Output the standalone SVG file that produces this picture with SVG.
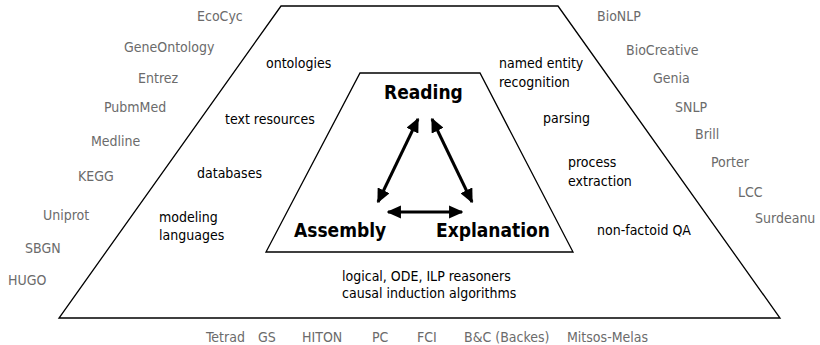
<svg xmlns="http://www.w3.org/2000/svg" width="820" height="345" viewBox="0 0 820 345">
<style>
text{font-family:"DejaVu Sans Condensed","DejaVu Sans",sans-serif;font-stretch:condensed}
.g{fill:#6b6b6b;font-size:14px}
.k{fill:#000;font-size:14px}
.b{fill:#000;font-size:19px;font-weight:bold}
.shape{fill:none;stroke:#000;stroke-width:1.3}
.arr{fill:none;stroke:#000;stroke-width:3;marker-start:url(#ah);marker-end:url(#ah)}
</style>
<defs>
<marker id="ah" viewBox="0 0 10 10" refX="9" refY="5" markerWidth="4.8" markerHeight="4.4" orient="auto-start-reverse" markerUnits="strokeWidth" preserveAspectRatio="none">
<path d="M0,0 L10,5 L0,10 Z" fill="#000"/>
</marker>
</defs>
<g id="outer">
<polygon class="shape" points="281,6 558,6 780,318 59,318"/>
</g>
<g id="inner">
<polygon class="shape" points="360,73 480,73 573,252 266,252"/>
</g>
<g id="reading"><text class="b" x="384" y="99">Reading</text></g>
<g id="assembly"><text class="b" x="294" y="237">Assembly</text></g>
<g id="explanation"><text class="b" x="436" y="237">Explanation</text></g>
<g id="connectors">
<line class="arr" x1="378" y1="202" x2="418" y2="119"/>
<line class="arr" x1="472" y1="202" x2="432" y2="119"/>
<line class="arr" x1="388" y1="212" x2="462" y2="212"/>
</g>
<g id="left-topics">
<text class="k" x="266" y="68">ontologies</text>
<text class="k" x="225" y="124">text resources</text>
<text class="k" x="197" y="178">databases</text>
<text class="k" x="159" y="222">modeling</text>
<text class="k" x="159" y="240">languages</text>
</g>
<g id="right-topics">
<text class="k" x="499" y="68">named entity</text>
<text class="k" x="499" y="87">recognition</text>
<text class="k" x="543" y="123">parsing</text>
<text class="k" x="568" y="167">process</text>
<text class="k" x="568" y="186">extraction</text>
<text class="k" x="597" y="235">non-factoid QA</text>
</g>
<g id="bottom-topics">
<text class="k" x="342" y="281">logical, ODE, ILP reasoners</text>
<text class="k" x="342" y="298">causal induction algorithms</text>
</g>
<g id="left-resources">
<text class="g" x="197" y="21">EcoCyc</text>
<text class="g" x="124" y="52">GeneOntology</text>
<text class="g" x="138" y="83">Entrez</text>
<text class="g" x="104" y="112">PubmMed</text>
<text class="g" x="91" y="146">Medline</text>
<text class="g" x="78" y="181">KEGG</text>
<text class="g" x="43" y="220">Uniprot</text>
<text class="g" x="25" y="253">SBGN</text>
<text class="g" x="8" y="285">HUGO</text>
</g>
<g id="right-resources">
<text class="g" x="597" y="21">BioNLP</text>
<text class="g" x="626" y="55">BioCreative</text>
<text class="g" x="653" y="83">Genia</text>
<text class="g" x="675" y="112">SNLP</text>
<text class="g" x="695" y="139">Brill</text>
<text class="g" x="711" y="167">Porter</text>
<text class="g" x="738" y="197">LCC</text>
<text class="g" x="755" y="223">Surdeanu</text>
</g>
<g id="bottom-resources">
<text class="g" x="206" y="342">Tetrad</text>
<text class="g" x="258" y="342">GS</text>
<text class="g" x="302" y="342">HITON</text>
<text class="g" x="372" y="342">PC</text>
<text class="g" x="417" y="342">FCI</text>
<text class="g" x="464" y="342">B&amp;C (Backes)</text>
<text class="g" x="567" y="342">Mitsos-Melas</text>
</g>
</svg>
